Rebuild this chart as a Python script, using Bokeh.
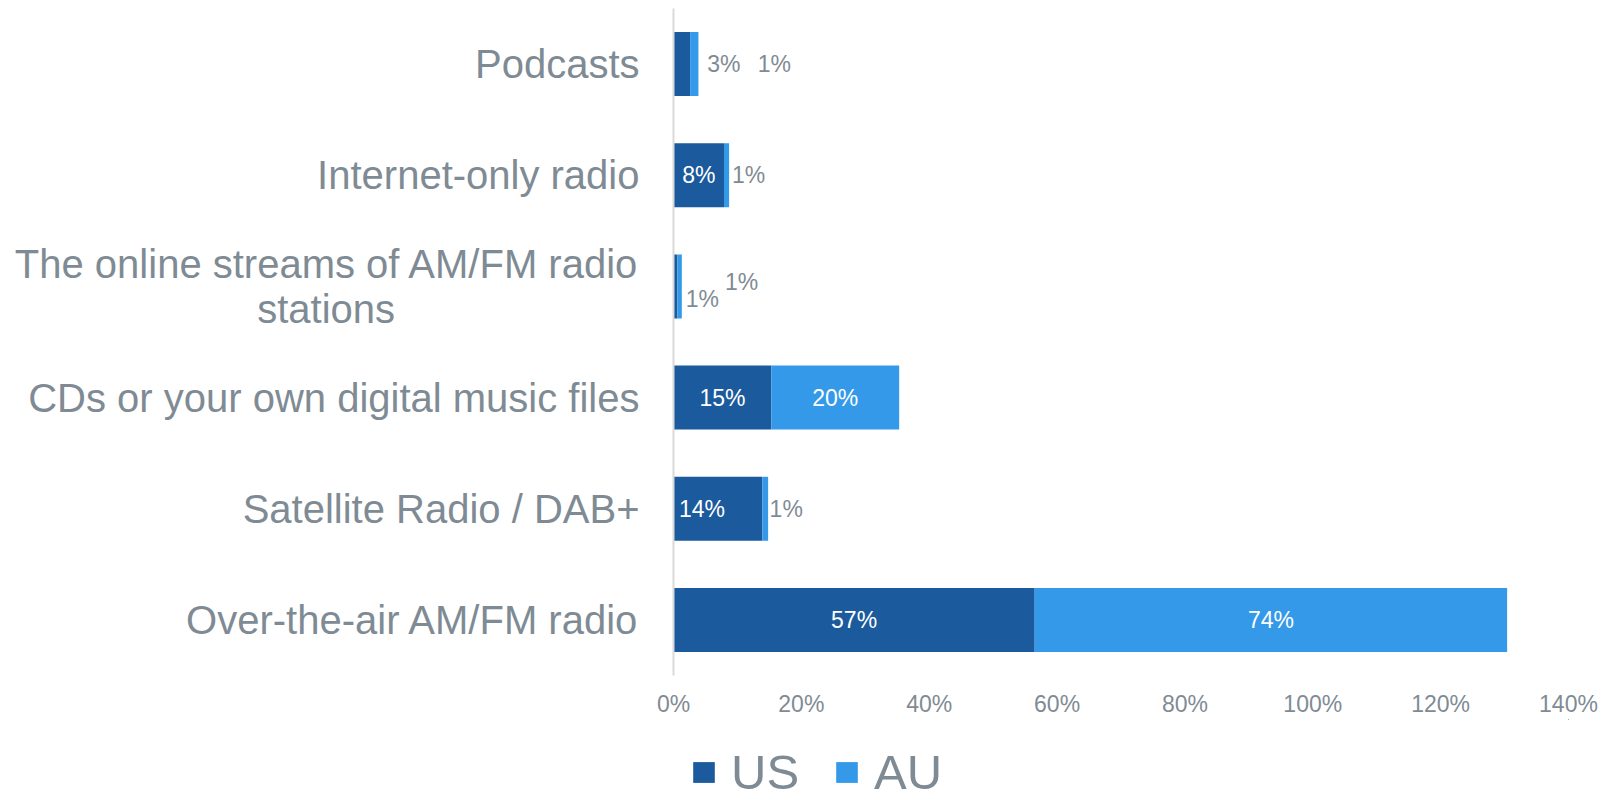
import math
from bokeh.plotting import figure
from bokeh.layouts import column
from bokeh.models import (ColumnDataSource, Range1d, FixedTicker,
                          PrintfTickFormatter, Legend, LegendItem)
from bokeh.core.properties import value
from bokeh.embed import file_html
from bokeh.resources import INLINE

# ---------------- data ----------------
categories = [
    "Podcasts",
    "Internet-only radio",
    "The online streams of AM/FM radio stations",
    "CDs or your own digital music files",
    "Satellite Radio / DAB+",
    "Over-the-air AM/FM radio",
]
us = [2.6, 7.9, 0.6, 15.3, 13.9, 56.5]
au = [1.3, 0.8, 0.7, 20.0, 0.9, 73.9]
series = ["US", "AU"]
x_ticks = [0, 20, 40, 60, 80, 100, 120, 140]
# axis text for each category (the long one is wrapped onto two lines)
category_lines = [
    ["Podcasts"],
    ["Internet-only radio"],
    ["The online streams of AM/FM radio", "stations"],
    ["CDs or your own digital music files"],
    ["Satellite Radio / DAB+"],
    ["Over-the-air AM/FM radio"],
]

# ---------------- styles ----------------
FONT = "Liberation Sans"
GRAY = "#7F8B94"
US_COLOR = "#1B5A9C"
AU_COLOR = "#3399E8"
LINE_GAP = 0.4          # distance between wrapped lines, in category units
NBSP = "\u00a0"
# per-label pixel nudges (style only)
us_dx = [42, 0, 27, 0, -16, 0]
us_dy = [0, 0, 13, 0, 0, 0]
us_tc = [GRAY, "white", GRAY, "white", "white", "white"]
au_dx = [80, 22, 62, 0, 21, 0]
au_dy = [0, 0, -4, 0, 0, 0]
au_tc = [GRAY, GRAY, GRAY, "white", GRAY, "white"]


def pct(v):
    return "%d%%" % int(math.floor(v + 0.5))


n = len(categories)
ypos = [n - i - 0.5 for i in range(n)]      # category slots, first on top
src = ColumnDataSource(dict(y=ypos, cat=categories, US=us, AU=au))

p = figure(
    width=1605, height=719,
    y_range=Range1d(0, n),
    x_range=Range1d(0, 140),
    output_backend="svg", toolbar_location=None,
    min_border_left=673, min_border_right=37, min_border_top=8,
    min_border_bottom=43,
)
p.outline_line_color = None
p.xgrid.visible = False
p.ygrid.visible = False

rs = p.hbar_stack(series, y="y", height=0.575, color=[US_COLOR, AU_COLOR],
                  line_color=None, source=src)

# data labels
us_src = ColumnDataSource(dict(
    x=[v / 2 for v in us], y=ypos, t=[pct(v) for v in us],
    dx=us_dx, dy=us_dy, c=us_tc))
au_src = ColumnDataSource(dict(
    x=[a + b / 2 for a, b in zip(us, au)], y=ypos, t=[pct(v) for v in au],
    dx=au_dx, dy=au_dy, c=au_tc))
for s in (us_src, au_src):
    p.text(x="x", y="y", text="t", x_offset="dx", y_offset="dy", source=s,
           text_color="c", text_font=value(FONT), text_font_size="23px",
           text_align="center", text_baseline="middle")

# x axis
xa = p.xaxis[0]
xa.ticker = FixedTicker(ticks=x_ticks)
xa.formatter = PrintfTickFormatter(format="%d%%")
xa.axis_line_color = None
xa.major_tick_line_color = None
xa.minor_tick_line_color = None
xa.major_tick_out = 0
xa.minor_tick_out = 0
xa.major_label_text_font = FONT
xa.major_label_text_font_size = "23px"
xa.major_label_text_color = GRAY
xa.major_label_standoff = 15

# y axis: ticks at the category slots, wrapped label on two ticks
ticks, overrides = [], {}
for centre, lines in zip(ypos, category_lines):
    k = len(lines)
    widest = max(len(l) for l in lines)
    for j, line in enumerate(lines):
        pos = round(centre + ((k - 1) / 2 - j) * LINE_GAP, 3)
        ticks.append(pos)
        if k > 1 and len(line) < widest:
            line = line + NBSP * 22      # centre the short wrapped line
        overrides[pos] = line
ya = p.yaxis[0]
ya.ticker = FixedTicker(ticks=ticks)
ya.major_label_overrides = overrides
ya.axis_line_color = "#D9D9D9"
ya.axis_line_width = 2
ya.major_tick_line_color = None
ya.minor_tick_line_color = None
ya.major_tick_out = 0
ya.minor_tick_out = 0
ya.major_label_text_font = FONT
ya.major_label_text_font_size = "40px"
ya.major_label_text_color = GRAY
ya.major_label_standoff = 34

# legend in its own strip below the chart (frame aligned with the chart's)
lf = figure(width=1605, height=71,
            x_range=Range1d(-1000, -999), y_range=Range1d(-1000, -999),
            output_backend="svg", toolbar_location=None,
            x_axis_type=None, y_axis_type=None, min_border=0,
            min_border_left=673, min_border_right=37)
lf.outline_line_color = None
lf.xgrid.visible = False
lf.ygrid.visible = False
rl = lf.hbar_stack(series, y="y", height=0.575, color=[US_COLOR, AU_COLOR],
                   line_color=None, source=src)   # out of view; legend swatches only
legend = Legend(
    items=[LegendItem(label=series[0], renderers=[rl[0]]),
           LegendItem(label=series[1], renderers=[rl[1]])],
    orientation="horizontal", location=(17, -10),
    label_text_font=FONT, label_text_font_size="49px", label_text_color=GRAY,
    glyph_width=27, glyph_height=26, label_standoff=14, spacing=34,
    padding=0, margin=0, border_line_color=None, background_fill_alpha=0,
)
lf.add_layout(legend)

open("out.html", "w").write(file_html(column(p, lf), INLINE))
